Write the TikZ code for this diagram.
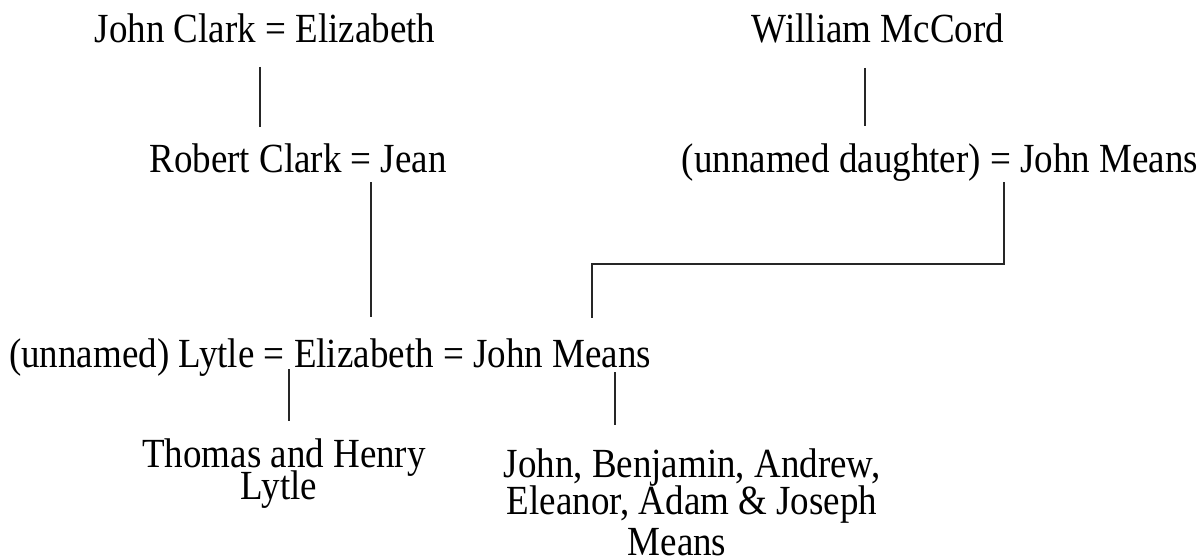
\documentclass[tikz,border=0pt]{standalone}
\usepackage{fontspec}
\setmainfont{Liberation Serif}
\newcommand{\tall}[1]{\scalebox{1}[1.12]{#1}}
\begin{document}
\begin{tikzpicture}[x=1pt,y=-1pt,
  person/.style={inner sep=0pt,anchor=base,font=\fontsize{37}{40}\selectfont},
  link/.style={draw=black!85,line width=1.8pt}]
\useasboundingbox[fill=white] (0,0) rectangle (1201,559);
\node[person] (jc) at (265,43) {\tall{John Clark = Elizabeth}};
\node[person] (wm) at (878,43) {\tall{William McCord}};
\node[person] (rc) at (298,172) {\tall{Robert Clark = Jean}};
\node[person] (ud) at (940,172) {\tall{(unnamed daughter) = John Means}};
\node[person] (ul) at (330,367) {\tall{(unnamed) Lytle = Elizabeth = John Means}};
\node[person] (th1) at (284,467) {\tall{Thomas and Henry}};
\node[person] (th2) at (279,499) {\tall{Lytle}};
\node[person] (jb1) at (692,477) {\tall{John, Benjamin, Andrew,}};
\node[person] (jb2) at (692,514) {\tall{Eleanor, Adam \& Joseph}};
\node[person] (me) at (677,555) {\tall{Means}};
\coordinate (a1) at (260,67); \coordinate (a2) at (260,127);
\coordinate (b1) at (371,182); \coordinate (b2) at (371,317);
\coordinate (c1) at (865,68); \coordinate (c2) at (865,126);
\coordinate (d1) at (1004,182); \coordinate (d2) at (592,264); \coordinate (d3) at (592,318);
\coordinate (e1) at (289,369); \coordinate (e2) at (289,421);
\coordinate (f1) at (615,372); \coordinate (f2) at (615,425);
\draw[link] (a1) -- (a2);
\draw[link] (b1) -- (b2);
\draw[link] (c1) -- (c2);
\draw[link] (d1) |- (d2) -- (d3);
\draw[link] (e1) -- (e2);
\draw[link] (f1) -- (f2);
\end{tikzpicture}
\end{document}
